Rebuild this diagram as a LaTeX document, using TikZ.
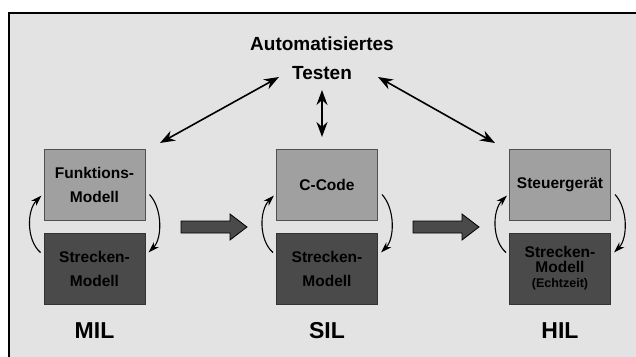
\documentclass[tikz,border=0pt]{standalone}
\usepackage{fontspec}
\setmainfont{Liberation Sans}
\usetikzlibrary{arrows.meta,calc}
\definecolor{panel}{HTML}{E3E3E3}
\definecolor{upperbox}{HTML}{A0A0A0}
\definecolor{lowerbox}{HTML}{4A4A4A}
\definecolor{boxedge}{HTML}{505050}
\tikzset{
  upper/.style={draw=boxedge, line width=1pt, fill=upperbox, minimum width=101pt,
    minimum height=71pt, inner sep=0pt, align=center,
    font=\fontsize{15.5}{24}\selectfont\bfseries},
  lower/.style={upper, draw=black!80, fill=lowerbox},
  stage/.style={font=\fontsize{23}{24}\selectfont\bfseries},
  testlink/.style={line width=1.6pt, {Stealth[length=15pt,width=11pt]}-{Stealth[length=15pt,width=11pt]}},
  loop/.style={line width=1.1pt, -{Stealth[length=11pt,width=7pt]}},
  flowshape/.style={draw=black, line width=0.8pt, fill=lowerbox},
  pics/flowarrow/.style={code={
    \path[flowshape] (-33,-6) -- (16,-6) -- (16,-13) -- (33,0) -- (16,13) -- (16,6)
      -- (-33,6) -- cycle;
  }},
}
\begin{document}
\begin{tikzpicture}[x=1pt,y=-1pt]
\useasboundingbox (0,0) rectangle (636,356);
\clip (0,0) rectangle (636,356);
\fill[white] (0,0) rectangle (636,356);
% frame
\draw[fill=panel, line width=1.4pt] (9,13) rectangle (650,370);

% title
\node[align=center, font=\fontsize{19}{29}\selectfont\bfseries] (test) at (322,58.5)
  {Automatisiertes\\Testen};

% boxes
\node[upper] (f1) at (94.5,184.5) {Funktions-\\Modell};
\node[lower] (s1) at (94.5,268.5) {Strecken-\\Modell};
\node[upper] (f2) at (327,184.5) {C-Code};
\node[lower] (s2) at (327,268.5) {Strecken-\\Modell};
\node[upper] (f3) at (560,184.5) {Steuerger\"at};
\node[lower, font=\fontsize{15.5}{15}\selectfont\bfseries] (s3) at (560,268.5)
  {Strecken-\\Modell\\{\fontsize{12.5}{15}\selectfont (Echtzeit)}};

% stage labels
\node[stage] (mil) at (94.5,331) {MIL};
\node[stage] (sil) at (327,331) {SIL};
\node[stage] (hil) at (560,331) {HIL};

% flow arrows between stages
\pic (a12) at (214,227) {flowarrow};
\pic (a23) at (446,227) {flowarrow};

% links to automated testing
\coordinate (t1) at (279,77);
\coordinate (b1) at (160,143);
\coordinate (t2) at (322,90);
\coordinate (b2) at (322,137);
\coordinate (t3) at (378,77);
\coordinate (b3) at (495,143);
\draw[testlink] (b1) -- (t1);
\draw[testlink] (b2) -- (t2);
\draw[testlink] (b3) -- (t3);

% model loops
\foreach \f/\s in {f1/s1,f2/s2,f3/s3}{
  \draw[loop] ($(\s.north west)+(-3,20)$) .. controls ($(\s.north west)+(-17,8)$)
    and ($(\f.south west)+(-17,-10)$) .. ($(\f.south west)+(-2,-25)$);
  \draw[loop] ($(\f.south east)+(4,-26)$) .. controls ($(\f.south east)+(17,-12)$)
    and ($(\s.north east)+(17,6)$) .. ($(\s.north east)+(3,20)$);
}
\end{tikzpicture}
\end{document}
